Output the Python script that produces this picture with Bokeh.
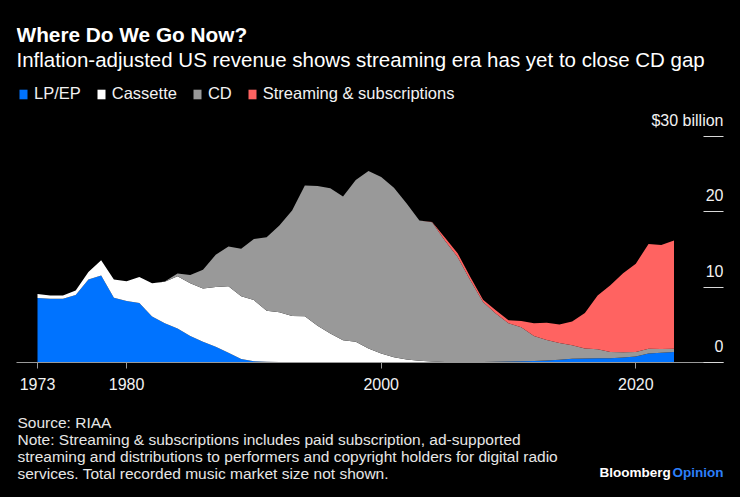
from bokeh.plotting import figure
from bokeh.layouts import column
from bokeh.models import (ColumnDataSource, Range1d, LinearAxis, FixedTicker,
                          Label, Legend, LegendItem)
from bokeh.core.properties import value
from bokeh.embed import file_html
from bokeh.resources import INLINE

# ---------------- data (US recorded music revenue, inflation-adjusted, $bn) -------------
years = list(range(1973, 2024))

lp_ep = [8.57, 8.45, 8.45, 8.95, 11.0, 11.55, 8.6, 8.17, 7.9, 6.1,
         5.2, 4.5, 3.5, 2.75, 2.1, 1.3, 0.45, 0.18, 0.1, 0.08,
         0.07, 0.07, 0.06, 0.06, 0.05, 0.05, 0.05, 0.05, 0.04, 0.04,
         0.04, 0.04, 0.03, 0.03, 0.04, 0.08, 0.09, 0.12, 0.16, 0.2,
         0.28, 0.38, 0.5, 0.52, 0.55, 0.58, 0.65, 0.8, 1.2, 1.3, 1.4]

cassette = [0.5, 0.45, 0.45, 0.6, 1.0, 2.0, 2.4, 2.6, 3.45, 4.4,
            5.5, 6.95, 7.0, 7.05, 7.9, 8.8, 8.35, 8.1, 6.75, 6.6,
            6.1, 6.05, 4.8, 3.8, 2.9, 2.7, 1.8, 1.15, 0.65, 0.35,
            0.2, 0.1, 0.05, 0.02, 0.01, 0, 0, 0, 0, 0,
            0, 0, 0, 0, 0, 0, 0, 0, 0, 0, 0]

cd = [0, 0, 0, 0, 0, 0, 0, 0, 0, 0,
      0.05, 0.35, 1.1, 2.5, 4.3, 5.3, 6.3, 8.1, 9.75, 11.5,
      14.0, 17.35, 18.55, 19.25, 19.05, 21.45, 23.55, 23.4, 22.5, 20.7,
      18.6, 18.45, 16.1, 13.95, 10.85, 7.95, 6.4, 5.1, 4.5, 3.3,
      2.7, 2.2, 1.8, 1.35, 1.2, 0.8, 0.7, 0.6, 0.63, 0.5, 0.43]

streaming = [0, 0, 0, 0, 0, 0, 0, 0, 0, 0,
             0, 0, 0, 0, 0, 0, 0, 0, 0, 0,
             0, 0, 0, 0, 0, 0, 0, 0, 0, 0,
             0, 0.05, 0.4, 0.5, 0.45, 0.3, 0.45, 0.4, 0.85, 1.7,
             2.3, 2.45, 3.15, 4.7, 7.15, 8.85, 10.5, 11.7, 13.9, 13.8, 14.35]

series_names = ["LP/EP", "Cassette", "CD", "Streaming & subscriptions"]
series_colors = ["#0073ff", "#ffffff", "#999999", "#ff6361"]

x_ticks = [1973, 1980, 2000, 2020]
y_ticks = [0, 10, 20, 30]
y_tick_labels = ["0", "10", "20", "$30 billion"]

title_text = "Where Do We Go Now?"
subtitle_text = "Inflation-adjusted US revenue shows streaming era has yet to close CD gap"
footnotes = [
    "Source: RIAA",
    "Note: Streaming & subscriptions includes paid subscription, ad-supported",
    "streaming and distributions to performers and copyright holders for digital radio",
    "services. Total recorded music market size not shown.",
]

# ---------------- layout -------------
FONT = "Liberation Sans"
TXT = "#f2f2f2"
BG = "black"
TOTAL_W = 740
LEFT, RIGHT = 16, 17
HEAD_H = 76
FOOT_H = 97
FRAME_TOP_PAD = 4
AXIS_PAD = 38
FRAME_W = TOTAL_W - LEFT - RIGHT
FRAME_H = 282
PX_PER_YEAR = 12.73
X0 = 1973 - 21 / PX_PER_YEAR
X1 = X0 + FRAME_W / PX_PER_YEAR
PX_PER_UNIT = 7.54
Y1 = FRAME_H / PX_PER_UNIT
BASE_FIX = 0.39  # alphabetic baseline correction, in em


def blank_fig(h):
    f = figure(width=TOTAL_W, height=h, x_range=Range1d(0, 1), y_range=Range1d(0, 1),
               output_backend="svg", toolbar_location=None,
               x_axis_location=None, y_axis_location=None,
               min_border_left=LEFT, min_border_right=RIGHT,
               min_border_top=0, min_border_bottom=0,
               background_fill_color=BG, border_fill_color=None)
    f.outline_line_color = None
    f.grid.visible = False
    return f


def add_label(fig, fig_top, fig_h, text, abs_x, abs_base, size_px, color=TXT,
              style="normal", align="left"):
    fig.add_layout(Label(x=abs_x - LEFT, y=fig_top + fig_h - abs_base + BASE_FIX * size_px,
                         x_units="screen", y_units="screen", text=text,
                         text_font=FONT, text_font_size=f"{size_px}px", text_color=color,
                         text_font_style=style, text_align=align,
                         text_baseline="alphabetic"))


# header
head = blank_fig(HEAD_H)
add_label(head, 0, HEAD_H, title_text, 16, 41.7, 20.8, "#ffffff", "bold")
add_label(head, 0, HEAD_H, subtitle_text, 16, 66.7, 20.5, "#ffffff")

# main chart
p = figure(frame_width=FRAME_W, frame_height=FRAME_H,
           x_range=Range1d(X0, X1), y_range=Range1d(0, Y1),
           output_backend="svg", toolbar_location=None,
           y_axis_location=None,
           min_border_left=LEFT, min_border_right=RIGHT,
           min_border_top=FRAME_TOP_PAD, min_border_bottom=AXIS_PAD,
           background_fill_color=BG, border_fill_color=None)
p.outline_line_color = None
p.grid.visible = False

src = ColumnDataSource(dict(year=years, lp=lp_ep, cas=cassette, cd=cd, st=streaming))
renderers = p.varea_stack(stackers=["lp", "cas", "cd", "st"], x="year",
                          color=series_colors, source=src)

xa = p.xaxis[0]
xa.ticker = FixedTicker(ticks=x_ticks)
xa.axis_line_color = "#9a9a9a"
xa.major_tick_line_color = "#9a9a9a"
xa.major_tick_out = 6
xa.major_tick_in = 0
xa.minor_tick_line_color = None
xa.major_label_text_font = FONT
xa.major_label_text_font_size = "16px"
xa.major_label_text_color = TXT
xa.major_label_standoff = 9

ya = LinearAxis(ticker=FixedTicker(ticks=y_ticks), axis_line_color=None,
                major_tick_in=20, major_tick_out=0, major_tick_line_color="#d8d8d8",
                minor_tick_line_color=None, major_label_text_font_size="0px",
                major_label_text_color=None, major_label_standoff=0)
p.add_layout(ya, "right")

p.text(x=[X1] * len(y_ticks),
       y=[t + (10 + BASE_FIX * 16) / PX_PER_UNIT for t in y_ticks],
       text=y_tick_labels, text_font=value(FONT), text_font_size="16px",
       text_color=TXT, text_align="right", text_baseline="alphabetic")

legend = Legend(items=[LegendItem(label=n, renderers=[r]) for n, r in zip(series_names, renderers)],
                location=(2, 259), orientation="horizontal",
                label_text_font=FONT, label_text_font_size="16.5px", label_text_color=TXT,
                glyph_width=10, glyph_height=12, label_standoff=6, spacing=15,
                padding=0, margin=0, border_line_color=None, background_fill_alpha=0)
p.add_layout(legend)

# footer
foot = blank_fig(FOOT_H)
FOOT_TOP = HEAD_H + FRAME_TOP_PAD + FRAME_H + AXIS_PAD
for i, line in enumerate(footnotes):
    add_label(foot, FOOT_TOP, FOOT_H, line, 17, 428.3 + 17 * i, 15.5, "#e6e6e6")
add_label(foot, FOOT_TOP, FOOT_H, "Bloomberg", 599, 477, 13.5, "#ffffff", "bold")
add_label(foot, FOOT_TOP, FOOT_H, "Opinion", 723, 477, 13.5, "#2d7ff9", "bold", "right")

layout = column(head, p, foot, spacing=0, styles={"background-color": "black"})
open("out.html", "w").write(file_html(layout, INLINE))
